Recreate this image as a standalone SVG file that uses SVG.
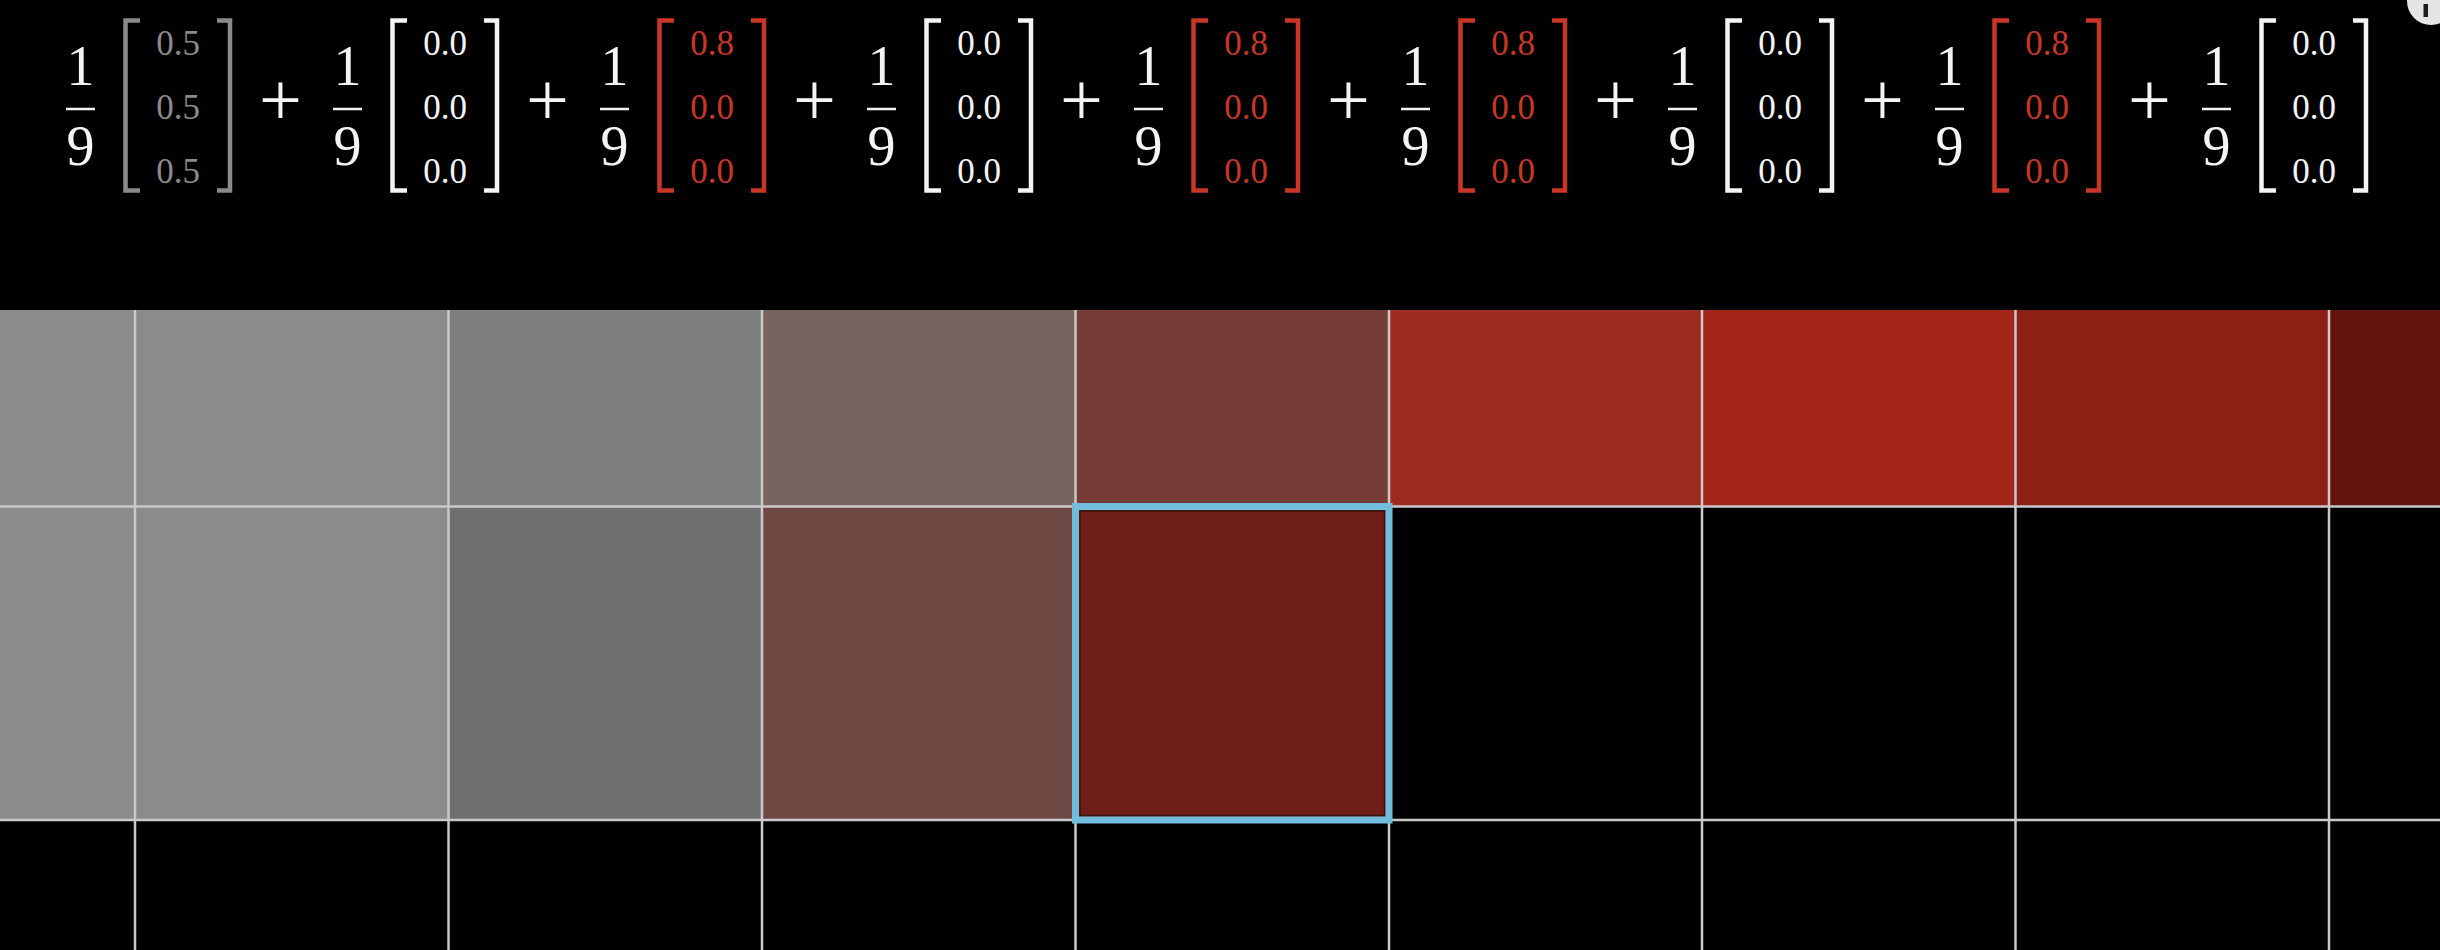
<svg xmlns="http://www.w3.org/2000/svg" width="2440" height="950" viewBox="0 0 2440 950">
  <style>
    .frac { font-family: "Liberation Serif", "DejaVu Serif", serif; font-size: 56px; text-anchor: middle; fill: #f4f4f4; }
    .num { font-family: "Liberation Serif", "DejaVu Serif", serif; font-size: 35px; text-anchor: middle; fill: currentColor; }
    .plus { font-family: "Liberation Serif", "DejaVu Serif", serif; font-size: 76px; text-anchor: middle; fill: #f4f4f4; }
    .bar { stroke: #f4f4f4; stroke-width: 2.5; }
    .brk { fill: none; stroke: currentColor; stroke-width: 4.5; stroke-linejoin: miter; stroke-linecap: butt; }
    .grey { color: #8a8a8a; }
    .white { color: #f4f4f4; }
    .red { color: #c93625; }
    .gl { stroke: #c9c9c9; stroke-width: 2.5; }
  </style>
  <defs>
    <g id="fr">
      <text class="frac" x="0" y="85">1</text>
      <line class="bar" x1="-14.5" y1="109" x2="14.5" y2="109"/>
      <text class="frac" x="0" y="165">9</text>
    </g>
    <g id="brackets">
      <path class="brk" d="M59.5 20.5 H45 V190.5 H59.5"/>
      <path class="brk" d="M136.5 20.5 H149.5 V190.5 H136.5"/>
    </g>
  </defs>
  <rect x="0" y="0" width="2440" height="950" fill="#000000"/>

  <!-- grid cells -->
  <g id="grid">
    <g id="row1">
      <rect x="0" y="310" width="135" height="196.5" fill="#8b8b8b"/>
      <rect x="135" y="310" width="313.5" height="196.5" fill="#8b8b8b"/>
      <rect x="448.5" y="310" width="313.5" height="196.5" fill="#7e7e7e"/>
      <rect x="762" y="310" width="313.5" height="196.5" fill="#786361"/>
      <rect x="1075.5" y="310" width="313.5" height="196.5" fill="#763d37"/>
      <rect x="1389" y="310" width="313" height="196.5" fill="#9c2c21"/>
      <rect x="1702" y="310" width="313.5" height="196.5" fill="#a32519"/>
      <rect x="2015.5" y="310" width="313.5" height="196.5" fill="#8d2015"/>
      <rect x="2329" y="310" width="111" height="196.5" fill="#62140c"/>
    </g>
    <g id="row2">
      <rect x="0" y="506.5" width="135" height="313.5" fill="#8b8b8b"/>
      <rect x="135" y="506.5" width="313.5" height="313.5" fill="#8b8b8b"/>
      <rect x="448.5" y="506.5" width="313.5" height="313.5" fill="#6f6f6f"/>
      <rect x="762" y="506.5" width="313.5" height="313.5" fill="#6d4843"/>
      <rect x="1075.5" y="506.5" width="313.5" height="313.5" fill="#6f1f17"/>
    </g>
    <g id="gridlines">
      <line class="gl" x1="135" y1="310" x2="135" y2="950"/>
      <line class="gl" x1="448.5" y1="310" x2="448.5" y2="950"/>
      <line class="gl" x1="762" y1="310" x2="762" y2="950"/>
      <line class="gl" x1="1075.5" y1="310" x2="1075.5" y2="950"/>
      <line class="gl" x1="1389" y1="310" x2="1389" y2="950"/>
      <line class="gl" x1="1702" y1="310" x2="1702" y2="950"/>
      <line class="gl" x1="2015.5" y1="310" x2="2015.5" y2="950"/>
      <line class="gl" x1="2329" y1="310" x2="2329" y2="950"/>
      <line class="gl" x1="0" y1="506.5" x2="2440" y2="506.5"/>
      <line class="gl" x1="0" y1="820" x2="2440" y2="820"/>
    </g>
    <g id="highlight">
      <rect x="1080" y="511" width="304.5" height="304.5" fill="none" stroke="#3a1511" stroke-width="1.5"/>
      <rect x="1075.5" y="506.5" width="313.5" height="313.5" fill="none" stroke="#73bddc" stroke-width="7"/>
    </g>
  </g>

  <!-- equation -->
  <g id="equation">
    <g id="term1" class="grey" transform="translate(80.5,0)">
      <use href="#fr"/><use href="#brackets"/>
      <text class="num" x="97.5" y="55">0.5</text><text class="num" x="97.5" y="119">0.5</text><text class="num" x="97.5" y="183">0.5</text>
      <text class="plus" x="200" y="125">+</text>
    </g>
    <g id="term2" class="white" transform="translate(347.5,0)">
      <use href="#fr"/><use href="#brackets"/>
      <text class="num" x="97.5" y="55">0.0</text><text class="num" x="97.5" y="119">0.0</text><text class="num" x="97.5" y="183">0.0</text>
      <text class="plus" x="200" y="125">+</text>
    </g>
    <g id="term3" class="red" transform="translate(614.5,0)">
      <use href="#fr"/><use href="#brackets"/>
      <text class="num" x="97.5" y="55">0.8</text><text class="num" x="97.5" y="119">0.0</text><text class="num" x="97.5" y="183">0.0</text>
      <text class="plus" x="200" y="125">+</text>
    </g>
    <g id="term4" class="white" transform="translate(881.5,0)">
      <use href="#fr"/><use href="#brackets"/>
      <text class="num" x="97.5" y="55">0.0</text><text class="num" x="97.5" y="119">0.0</text><text class="num" x="97.5" y="183">0.0</text>
      <text class="plus" x="200" y="125">+</text>
    </g>
    <g id="term5" class="red" transform="translate(1148.5,0)">
      <use href="#fr"/><use href="#brackets"/>
      <text class="num" x="97.5" y="55">0.8</text><text class="num" x="97.5" y="119">0.0</text><text class="num" x="97.5" y="183">0.0</text>
      <text class="plus" x="200" y="125">+</text>
    </g>
    <g id="term6" class="red" transform="translate(1415.5,0)">
      <use href="#fr"/><use href="#brackets"/>
      <text class="num" x="97.5" y="55">0.8</text><text class="num" x="97.5" y="119">0.0</text><text class="num" x="97.5" y="183">0.0</text>
      <text class="plus" x="200" y="125">+</text>
    </g>
    <g id="term7" class="white" transform="translate(1682.5,0)">
      <use href="#fr"/><use href="#brackets"/>
      <text class="num" x="97.5" y="55">0.0</text><text class="num" x="97.5" y="119">0.0</text><text class="num" x="97.5" y="183">0.0</text>
      <text class="plus" x="200" y="125">+</text>
    </g>
    <g id="term8" class="red" transform="translate(1949.5,0)">
      <use href="#fr"/><use href="#brackets"/>
      <text class="num" x="97.5" y="55">0.8</text><text class="num" x="97.5" y="119">0.0</text><text class="num" x="97.5" y="183">0.0</text>
      <text class="plus" x="200" y="125">+</text>
    </g>
    <g id="term9" class="white" transform="translate(2216.5,0)">
      <use href="#fr"/><use href="#brackets"/>
      <text class="num" x="97.5" y="55">0.0</text><text class="num" x="97.5" y="119">0.0</text><text class="num" x="97.5" y="183">0.0</text>
    </g>
  </g>

  <g id="info-icon">
    <circle cx="2431" cy="1" r="24" fill="#e4e4e4"/>
    <rect x="2423.5" y="4" width="4.5" height="13" fill="#1e1e1e"/>
  </g>
</svg>
